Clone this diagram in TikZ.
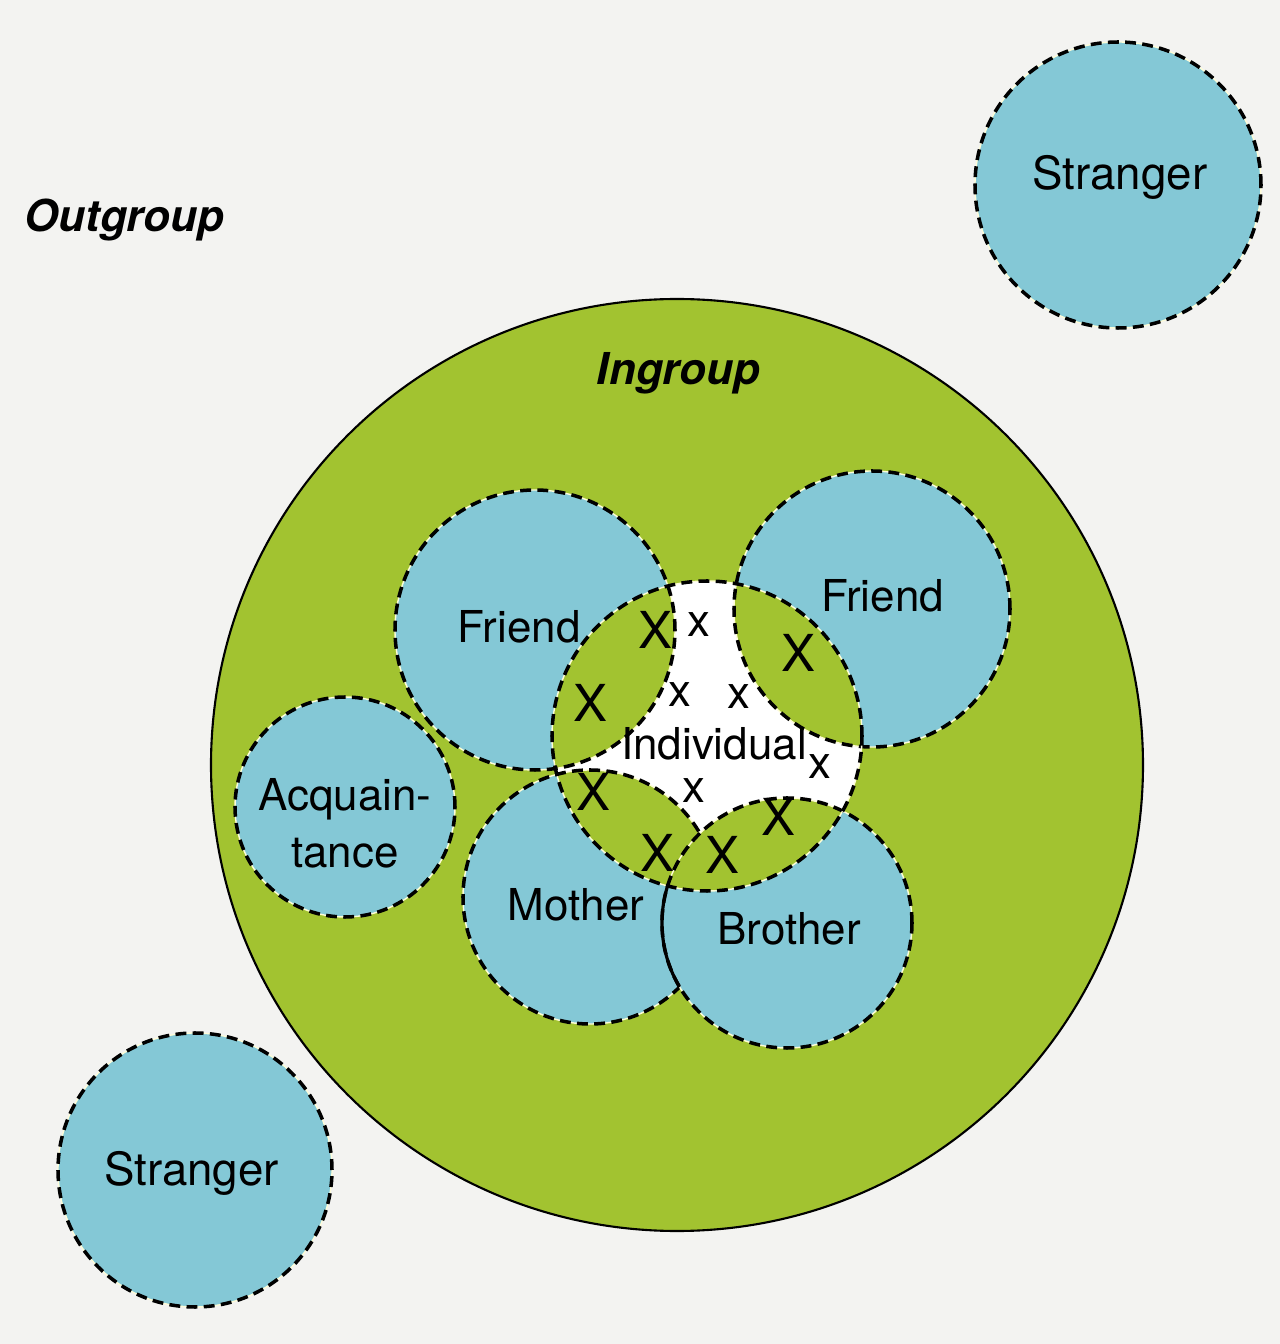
\documentclass[tikz,border=0pt]{standalone}
\usepackage{fontspec}
\setmainfont{TeX Gyre Heros}
\definecolor{paper}{RGB}{243,243,241}
\definecolor{ingreen}{RGB}{162,195,48}
\definecolor{grpblue}{RGB}{132,200,214}
\begin{document}
\begin{tikzpicture}[
    lbl/.style={font=\fontsize{12.5}{16.2}\selectfont, inner sep=0pt},
    hd/.style={font=\fontsize{12.5}{15}\selectfont\bfseries\itshape, inner sep=0pt},
    bigx/.style={font=\fontsize{14.5}{16}\selectfont, inner sep=0pt},
    smallx/.style={font=\fontsize{13}{15}\selectfont, inner sep=0pt},
    dsh/.style={draw=black, line width=1pt, dash pattern=on 3.1pt off 1.8pt,
      preaction={draw=white!85!yellow, line width=0.4pt, solid}},
  ]
    \useasboundingbox (0,0) rectangle (12.8,13.44);
    \fill[paper] (0,0) rectangle (12.8,13.44);

    \coordinate (G) at (6.77,5.79);
    \coordinate (S1) at (11.18,11.59);
    \coordinate (S2) at (1.95,1.74);
    \coordinate (F1) at (5.35,7.14);
    \coordinate (F2) at (8.72,7.35);
    \coordinate (A) at (3.45,5.37);
    \coordinate (M) at (5.90,4.47);
    \coordinate (B) at (7.87,4.21);
    \coordinate (I) at (7.07,6.08);

    \draw[fill=ingreen, line width=0.6pt] (G) circle (4.66);
    \fill[grpblue] (S1) circle (1.43);
    \path[dsh] (S1) circle (1.43);
    \fill[grpblue] (S2) circle (1.37);
    \path[dsh] (S2) circle (1.37);
    \fill[grpblue] (A) circle (1.10);
    \path[dsh] (A) circle (1.10);

    \fill[grpblue] (F1) circle (1.40);
    \fill[grpblue] (F2) circle (1.38);
    \fill[grpblue] (M) circle (1.27);
    \fill[grpblue] (B) circle (1.25);
    \fill[white] (I) circle (1.55);
    \begin{scope}
      \clip (I) circle (1.55);
      \fill[ingreen] (F1) circle (1.40);
      \fill[ingreen] (F2) circle (1.38);
      \fill[ingreen] (M) circle (1.27);
      \fill[ingreen] (B) circle (1.25);
    \end{scope}

    \path[dsh] (F1) circle (1.40);
    \path[dsh] (F2) circle (1.38);
    \begin{scope}[even odd rule]
      \clip (0,0) rectangle (12.8,13.44) (B) circle (1.25);
      \path[dsh] (M) circle (1.27);
    \end{scope}
    \path[dsh] (B) circle (1.25);
    \begin{scope}[even odd rule]
      \clip (M) circle (1.27);
      \clip (0,0) rectangle (12.8,13.44) (I) circle (1.55);
      \draw[line width=0.9pt] (B) circle (1.25);
    \end{scope}
    \path[dsh] (I) circle (1.55);

    \node[hd] (out) at (1.245,11.24) {Outgroup};
    \node[hd] (in) at (6.785,9.71) {Ingroup};
    \node[lbl, font=\fontsize{13}{15}\selectfont] (s1) at (11.20,11.665) {Stranger};
    \node[lbl, font=\fontsize{13}{15}\selectfont] (s2) at (1.915,1.71) {Stranger};
    \node[lbl] (f1) at (5.19,7.17) {Friend};
    \node[lbl] (f2) at (8.825,7.48) {Friend};
    \node[lbl, align=center] (a) at (3.45,5.205) {Acquain-\\tance};
    \node[lbl] (m) at (5.76,4.39) {Mother};
    \node[lbl] (b) at (7.89,4.15) {Brother};
    \node[lbl] (ind) at (7.14,6.00) {Individual};

    \node[bigx] (X1) at (6.55,7.14) {X};
    \node[bigx] (X2) at (5.90,6.41) {X};
    \node[bigx] (X3) at (7.98,6.91) {X};
    \node[bigx] (X4) at (5.93,5.52) {X};
    \node[bigx] (X5) at (6.57,4.91) {X};
    \node[bigx] (X6) at (7.22,4.89) {X};
    \node[bigx] (X7) at (7.78,5.27) {X};
    \node[smallx] (x1) at (6.99,7.19) {x};
    \node[smallx] (x2) at (6.80,6.49) {x};
    \node[smallx] (x3) at (7.39,6.47) {x};
    \node[smallx] (x4) at (6.94,5.53) {x};
    \node[smallx] (x5) at (8.20,5.77) {x};
\end{tikzpicture}
\end{document}
